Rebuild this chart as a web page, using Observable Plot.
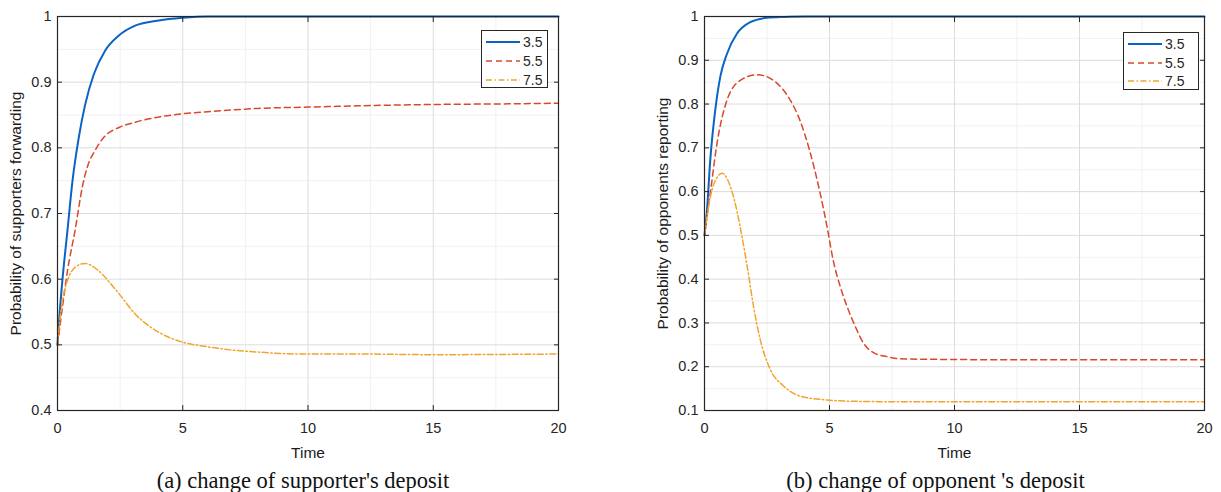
<!DOCTYPE html>
<html>
<head>
<meta charset="utf-8">
<script src="https://cdn.jsdelivr.net/npm/d3@7"></script>
<script src="https://cdn.jsdelivr.net/npm/@observablehq/plot@0.6"></script>
<style>
  body { margin: 0; background: #fff; }
  #wrap { position: relative; width: 1221px; height: 492px; overflow: hidden; background: #fff; }
  .panel { position: absolute; top: 0; }
  .legend { position: absolute; border: 1px solid #262626; background: #fff; box-sizing: border-box;
            font-family: "Liberation Sans", Arial, sans-serif; font-size: 14px; color: #262626; }
  .legend .row { position: absolute; left: 0; height: 18px; display: flex; align-items: center; }
  .legend svg { display: block; }
  .legend span { margin-left: 3px; line-height: 18px; }
</style>
</head>
<body>
<div id="wrap"></div>
<script>
// ---------------- data ----------------
const seriesNames = ["3.5", "5.5", "7.5"];
const xTicks = [0, 5, 10, 15, 20];
const yTicksA = [0.4, 0.5, 0.6, 0.7, 0.8, 0.9, 1];
const yTicksB = [0.1, 0.2, 0.3, 0.4, 0.5, 0.6, 0.7, 0.8, 0.9, 1];
const yLabelA = "Probability of supporters forwarding";
const yLabelB = "Probability of opponents reporting";
const xLabel = "Time";
const captionA = "(a) change of supporter's deposit";
const captionB = "(b) change of opponent 's deposit";

// Panel (a): supporter's deposit
const tA1 = [0, 0.05, 0.2, 0.4, 0.6, 0.85, 1.1, 1.45, 1.9, 2.45, 3.1, 4.05, 5, 6, 8, 10, 15, 20];
const vA1 = [0.5, 0.53, 0.6, 0.675, 0.75, 0.816, 0.865, 0.912, 0.948, 0.971, 0.986, 0.994, 0.998, 1, 1, 1, 1, 1];
const tA2 = [0, 0.2, 0.4, 0.7, 1.0, 1.2, 1.5, 1.85, 2.45, 3.1, 4.05, 5, 6, 8, 10, 12, 15, 18, 20];
const vA2 = [0.5, 0.558, 0.613, 0.674, 0.742, 0.772, 0.796, 0.816, 0.831, 0.839, 0.847, 0.852, 0.855, 0.86, 0.862, 0.864, 0.866, 0.867, 0.868];
const tA3 = [0, 0.1, 0.2, 0.4, 0.7, 1.1, 1.5, 1.8, 2.1, 2.45, 3.1, 4.05, 5, 6, 7, 8, 9.7, 12, 15, 20];
const vA3 = [0.5, 0.54, 0.568, 0.598, 0.618, 0.624, 0.617, 0.607, 0.594, 0.578, 0.547, 0.519, 0.504, 0.497, 0.492, 0.489, 0.486, 0.486, 0.485, 0.486];

// Panel (b): opponent's deposit
const tB1 = [0, 0.1, 0.23, 0.43, 0.63, 0.9, 1.3, 1.83, 2.5, 3.2, 4, 6, 20];
const vB1 = [0.5, 0.558, 0.672, 0.786, 0.862, 0.915, 0.961, 0.987, 0.997, 0.999, 1, 1, 1];
const tB2 = [0, 0.1, 0.23, 0.5, 0.9, 1.43, 2.1, 2.76, 3.1, 3.43, 3.83, 4.2, 4.6, 4.9, 5.16, 5.43, 5.7, 6.03, 6.36, 6.76, 7.3, 7.83, 9, 12, 20];
const vB2 = [0.5, 0.543, 0.596, 0.71, 0.809, 0.854, 0.867, 0.854, 0.836, 0.809, 0.761, 0.695, 0.603, 0.52, 0.44, 0.383, 0.338, 0.292, 0.254, 0.232, 0.223, 0.218, 0.217, 0.216, 0.216];
const tB3 = [0, 0.1, 0.3, 0.5, 0.7, 0.9, 1.1, 1.3, 1.5, 1.7, 1.96, 2.23, 2.63, 3.16, 3.83, 4.9, 6, 7.83, 10, 20];
const vB3 = [0.5, 0.543, 0.604, 0.632, 0.642, 0.63, 0.6, 0.555, 0.497, 0.432, 0.338, 0.262, 0.194, 0.156, 0.133, 0.124, 0.121, 0.12, 0.12, 0.12];

// ---------------- styles ----------------
const colors = ["#0B63C4", "#D9482A", "#F0A52E"];
const dashes = [null, "6,4", "6,2.5,1.5,2.5"];
const widths = [2, 1.5, 1.5];
const axisColor = "#262626";
const fontSans = "'Liberation Sans', Arial, sans-serif";
const fontSerif = "'Liberation Serif', 'Times New Roman', serif";

function toRows(ts, vs, s) { return ts.map((t, i) => ({t, v: vs[i], s})); }
function mids(ticks) { const m = []; for (let i = 0; i < ticks.length - 1; i++) m.push((ticks[i] + ticks[i + 1]) / 2); return m; }
const fmt = d => String(+(+d).toFixed(2));

function makePanel({width, marginLeft, marginRight, yDomain, yTicks, series, yLabel, caption, captionDx}) {
  const lines = series.map((rows, i) => Plot.line(rows, {
    x: "t", y: "v", stroke: colors[i], strokeWidth: widths[i],
    strokeDasharray: dashes[i] || undefined, curve: "monotone-x"
  }));
  return Plot.plot({
    width, height: 492,
    marginLeft, marginRight, marginTop: 16, marginBottom: 82,
    x: {domain: [0, 20]},
    y: {domain: yDomain},
    style: {fontFamily: fontSans, fontSize: "14.5px", color: axisColor, background: "transparent", overflow: "visible"},
    marks: [
      Plot.gridX(mids(xTicks), {stroke: "#f1f1f1", strokeOpacity: 1}),
      Plot.gridY(mids(yTicks), {stroke: "#f1f1f1", strokeOpacity: 1}),
      Plot.gridX(xTicks, {stroke: "#dcdcdc", strokeOpacity: 1}),
      Plot.gridY(yTicks, {stroke: "#dcdcdc", strokeOpacity: 1}),
      ...lines,
      Plot.frame({stroke: axisColor, strokeWidth: 1.2}),
      // tick labels
      Plot.axisX(xTicks, {anchor: "bottom", tickSize: 0, tickPadding: 12, tickFormat: fmt, label: null, fill: axisColor, fontSize: 14.5}),
      Plot.axisY(yTicks, {anchor: "left", tickSize: 0, tickPadding: 6, tickFormat: fmt, label: null, fill: axisColor, fontSize: 14.5}),
      // inward ticks (MATLAB style, box on)
      Plot.axisX(xTicks, {anchor: "bottom", tickSize: -5, tickFormat: () => "", label: null, stroke: axisColor}),
      Plot.axisX(xTicks, {anchor: "top", tickSize: -5, tickFormat: () => "", label: null, stroke: axisColor}),
      Plot.axisY(yTicks, {anchor: "left", tickSize: -5, tickFormat: () => "", label: null, stroke: axisColor}),
      Plot.axisY(yTicks, {anchor: "right", tickSize: -5, tickFormat: () => "", label: null, stroke: axisColor}),
      // axis titles
      Plot.text([xLabel], {frameAnchor: "bottom", dy: 47, lineAnchor: "bottom", textAnchor: "middle", fontSize: 15.5, fill: "#1a1a1a"}),
      Plot.text([yLabel], {frameAnchor: "left", dx: -41, rotate: -90, lineAnchor: "middle", textAnchor: "middle", fontSize: 15.5, fill: "#1a1a1a"}),
      // caption
      Plot.text([caption], {frameAnchor: "bottom", dy: 77, dx: captionDx, lineAnchor: "bottom", textAnchor: "middle", fontSize: 22.5, fontFamily: fontSerif, fill: "#111"})
    ]
  });
}

const wrap = document.getElementById("wrap");

const left = makePanel({
  width: 610, marginLeft: 57, marginRight: 52,
  yDomain: [0.4, 1], yTicks: yTicksA,
  series: [toRows(tA1, vA1, seriesNames[0]), toRows(tA2, vA2, seriesNames[1]), toRows(tA3, vA3, seriesNames[2])],
  yLabel: yLabelA, caption: captionA, captionDx: -5
});
left.classList.add("panel");
left.style.left = "0px";
wrap.appendChild(left);

const right = makePanel({
  width: 611, marginLeft: 94, marginRight: 17,
  yDomain: [0.1, 1], yTicks: yTicksB,
  series: [toRows(tB1, vB1, seriesNames[0]), toRows(tB2, vB2, seriesNames[1]), toRows(tB3, vB3, seriesNames[2])],
  yLabel: yLabelB, caption: captionB, captionDx: -19
});
right.classList.add("panel");
right.style.left = "610px";
wrap.appendChild(right);

// legends
function addLegend(x, y, w, h, lineX0, lineLen, rowYs) {
  const box = document.createElement("div");
  box.className = "legend";
  Object.assign(box.style, {left: x + "px", top: y + "px", width: w + "px", height: h + "px"});
  seriesNames.forEach((name, i) => {
    const row = document.createElement("div");
    row.className = "row";
    row.style.top = (rowYs[i] - y - 9) + "px";
    row.style.left = (lineX0 - x - 1) + "px";
    const svg = d3.create("svg").attr("width", lineLen).attr("height", 18);
    svg.append("line").attr("x1", 0).attr("x2", lineLen).attr("y1", 9).attr("y2", 9)
      .attr("stroke", colors[i]).attr("stroke-width", widths[i])
      .attr("stroke-dasharray", dashes[i] || null);
    row.appendChild(svg.node());
    const sp = document.createElement("span");
    sp.textContent = name;
    row.appendChild(sp);
    box.appendChild(row);
  });
  wrap.appendChild(box);
}
addLegend(481, 30, 67, 58, 486, 34, [41, 60, 79]);
addLegend(1123, 32, 76, 58, 1128, 34, [43, 62, 80]);
</script>
</body>
</html>
